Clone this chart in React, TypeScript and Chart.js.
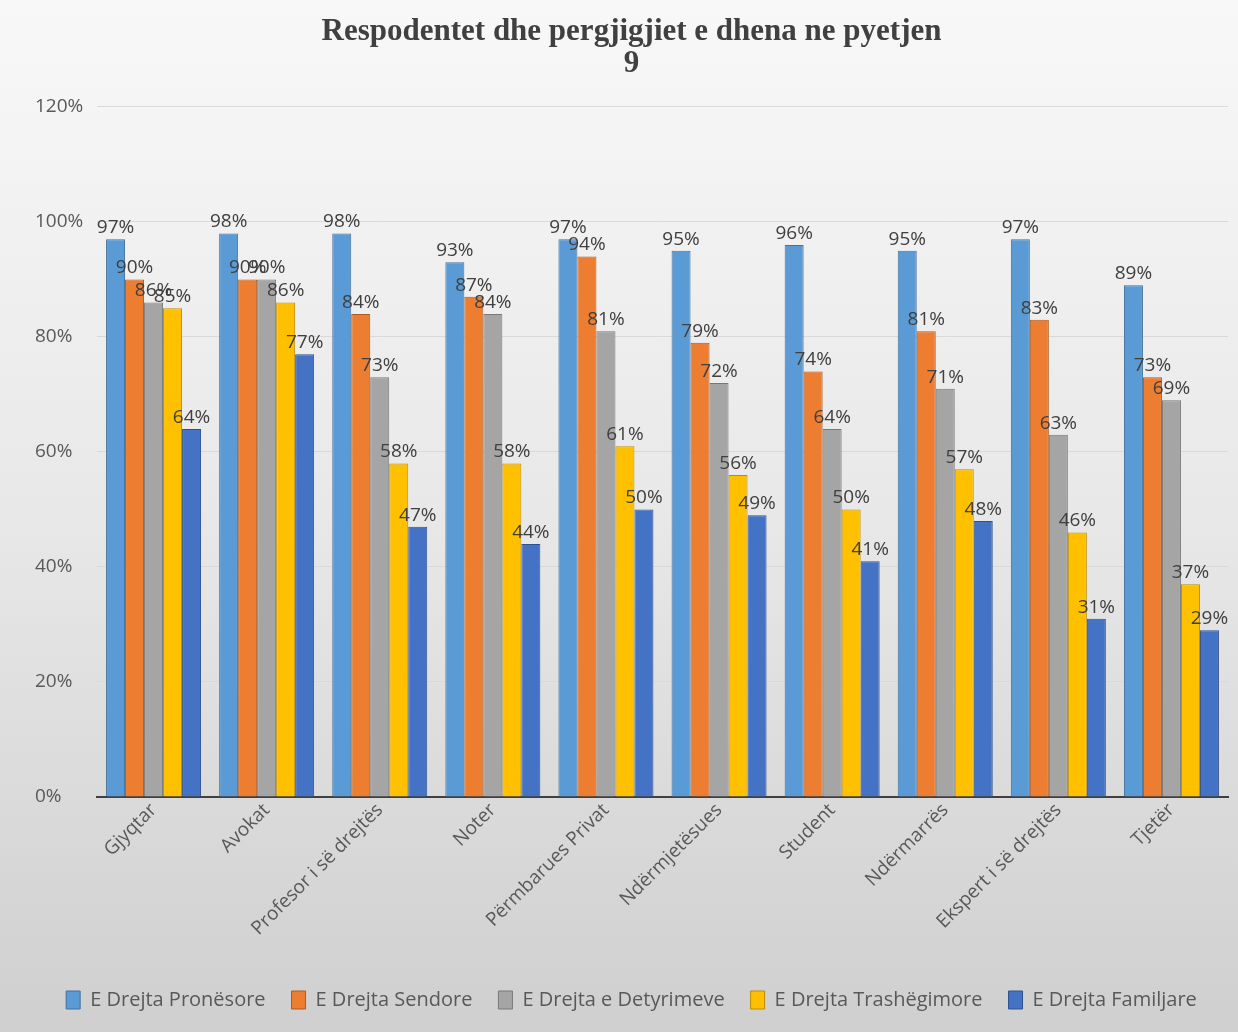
import { useEffect, useRef } from "react";
import { Chart, registerables } from "chart.js";

Chart.register(...registerables);

const titleLines = ["Respodentet dhe pergjigjiet e dhena ne pyetjen", "9"];
const categories = [
  "Gjyqtar",
  "Avokat",
  "Profesor i së drejtës",
  "Noter",
  "Përmbarues Privat",
  "Ndërmjetësues",
  "Student",
  "Ndërmarrës",
  "Ekspert i së drejtës",
  "Tjetër",
];
const seriesNames = [
  "E Drejta Pronësore",
  "E Drejta Sendore",
  "E Drejta e Detyrimeve",
  "E Drejta Trashëgimore",
  "E Drejta Familjare",
];
const pronesore = [97, 98, 98, 93, 97, 95, 96, 95, 97, 89];
const sendore = [90, 90, 84, 87, 94, 79, 74, 81, 83, 73];
const detyrimeve = [86, 90, 73, 84, 81, 72, 64, 71, 63, 69];
const trashegimore = [85, 86, 58, 58, 61, 56, 50, 57, 46, 37];
const familjare = [64, 77, 47, 44, 50, 49, 41, 48, 31, 29];
const yTicks = [0, 20, 40, 60, 80, 100, 120];

const fills = ["#5B9BD5", "#ED7D31", "#A5A5A5", "#FFC000", "#4472C4"];
const borders = ["#41719C", "#AE5A21", "#787878", "#BC8C00", "#2F528F"];

const FONT = '"Open Sans", "DejaVu Sans", sans-serif';

const bgPlugin = {
  id: "bgGradient",
  beforeDraw(chart: any) {
    const { ctx, width, height } = chart;
    const g = ctx.createLinearGradient(0, 0, 0, height);
    g.addColorStop(0, "#f8f8f8");
    g.addColorStop(0.5, "#e8e8e8");
    g.addColorStop(1, "#cfcfcf");
    ctx.save();
    ctx.fillStyle = g;
    ctx.fillRect(0, 0, width, height);
    ctx.restore();
  },
};

const labelPlugin = {
  id: "barValueLabels",
  afterDatasetsDraw(chart: any) {
    const { ctx } = chart;
    ctx.save();
    ctx.font = `19px ${FONT}`;
    ctx.fillStyle = "#404040";
    ctx.textAlign = "center";
    ctx.textBaseline = "bottom";
    chart.data.datasets.forEach((ds: any, i: number) => {
      const meta = chart.getDatasetMeta(i);
      meta.data.forEach((el: any, j: number) => {
        ctx.fillText(`${ds.data[j]}%`, el.x, el.y - 2);
      });
    });
    ctx.restore();
  },
};

export default function App() {
  const ref = useRef<HTMLCanvasElement | null>(null);

  useEffect(() => {
    if (!ref.current) return;
    const seriesData = [pronesore, sendore, detyrimeve, trashegimore, familjare];
    const chart = new Chart(ref.current, {
      type: "bar",
      data: {
        labels: categories,
        datasets: seriesData.map((d, i) => ({
          label: seriesNames[i],
          data: d,
          backgroundColor: fills[i],
          borderColor: borders[i],
          borderWidth: 1,
          categoryPercentage: 0.84,
          barPercentage: 1.0,
        })),
      },
      options: {
        responsive: false,
        animation: false,
        layout: { padding: { left: 35, right: 10, top: 0, bottom: 12 } },
        plugins: {
          title: {
            display: true,
            text: titleLines,
            color: "#404040",
            font: { family: '"Liberation Serif", "Times New Roman", serif', size: 31, weight: "bold", lineHeight: 1.03 },
            padding: { top: 16, bottom: 27 },
          },
          legend: {
            position: "bottom",
            labels: {
              font: { family: FONT, size: 20 },
              color: "#595959",
              boxWidth: 14,
              boxHeight: 18,
              padding: 26,
            },
          },
          tooltip: { enabled: false },
        },
        scales: {
          x: {
            grid: { display: false, drawTicks: false },
            border: { display: true, color: "#404040", width: 2 },
            ticks: {
              font: { family: FONT, size: 19 },
              color: "#595959",
              maxRotation: 45,
              minRotation: 45,
              autoSkip: false,
              padding: 2,
            },
            afterFit: (s: any) => {
              s.height = 167;
            },
          },
          y: {
            min: 0,
            max: 120,
            afterBuildTicks: (s: any) => {
              s.ticks = yTicks.map((v) => ({ value: v }));
            },
            ticks: {
              font: { family: FONT, size: 19 },
              color: "#595959",
              crossAlign: "far",
              padding: 0,
              callback: (v: any) => `${v}%`,
            },
            grid: { color: "#d9d9d9", drawTicks: false },
            border: { display: false },
            afterFit: (s: any) => {
              s.width = 62;
            },
          },
        },
      },
      plugins: [bgPlugin, labelPlugin],
    });
    return () => chart.destroy();
  }, []);

  return (
    <div style={{ position: "absolute", left: 0, top: 0, width: 1238, height: 1032 }}>
      <canvas ref={ref} width={1238} height={1032} style={{ display: "block", width: 1238, height: 1032 }} />
    </div>
  );
}
